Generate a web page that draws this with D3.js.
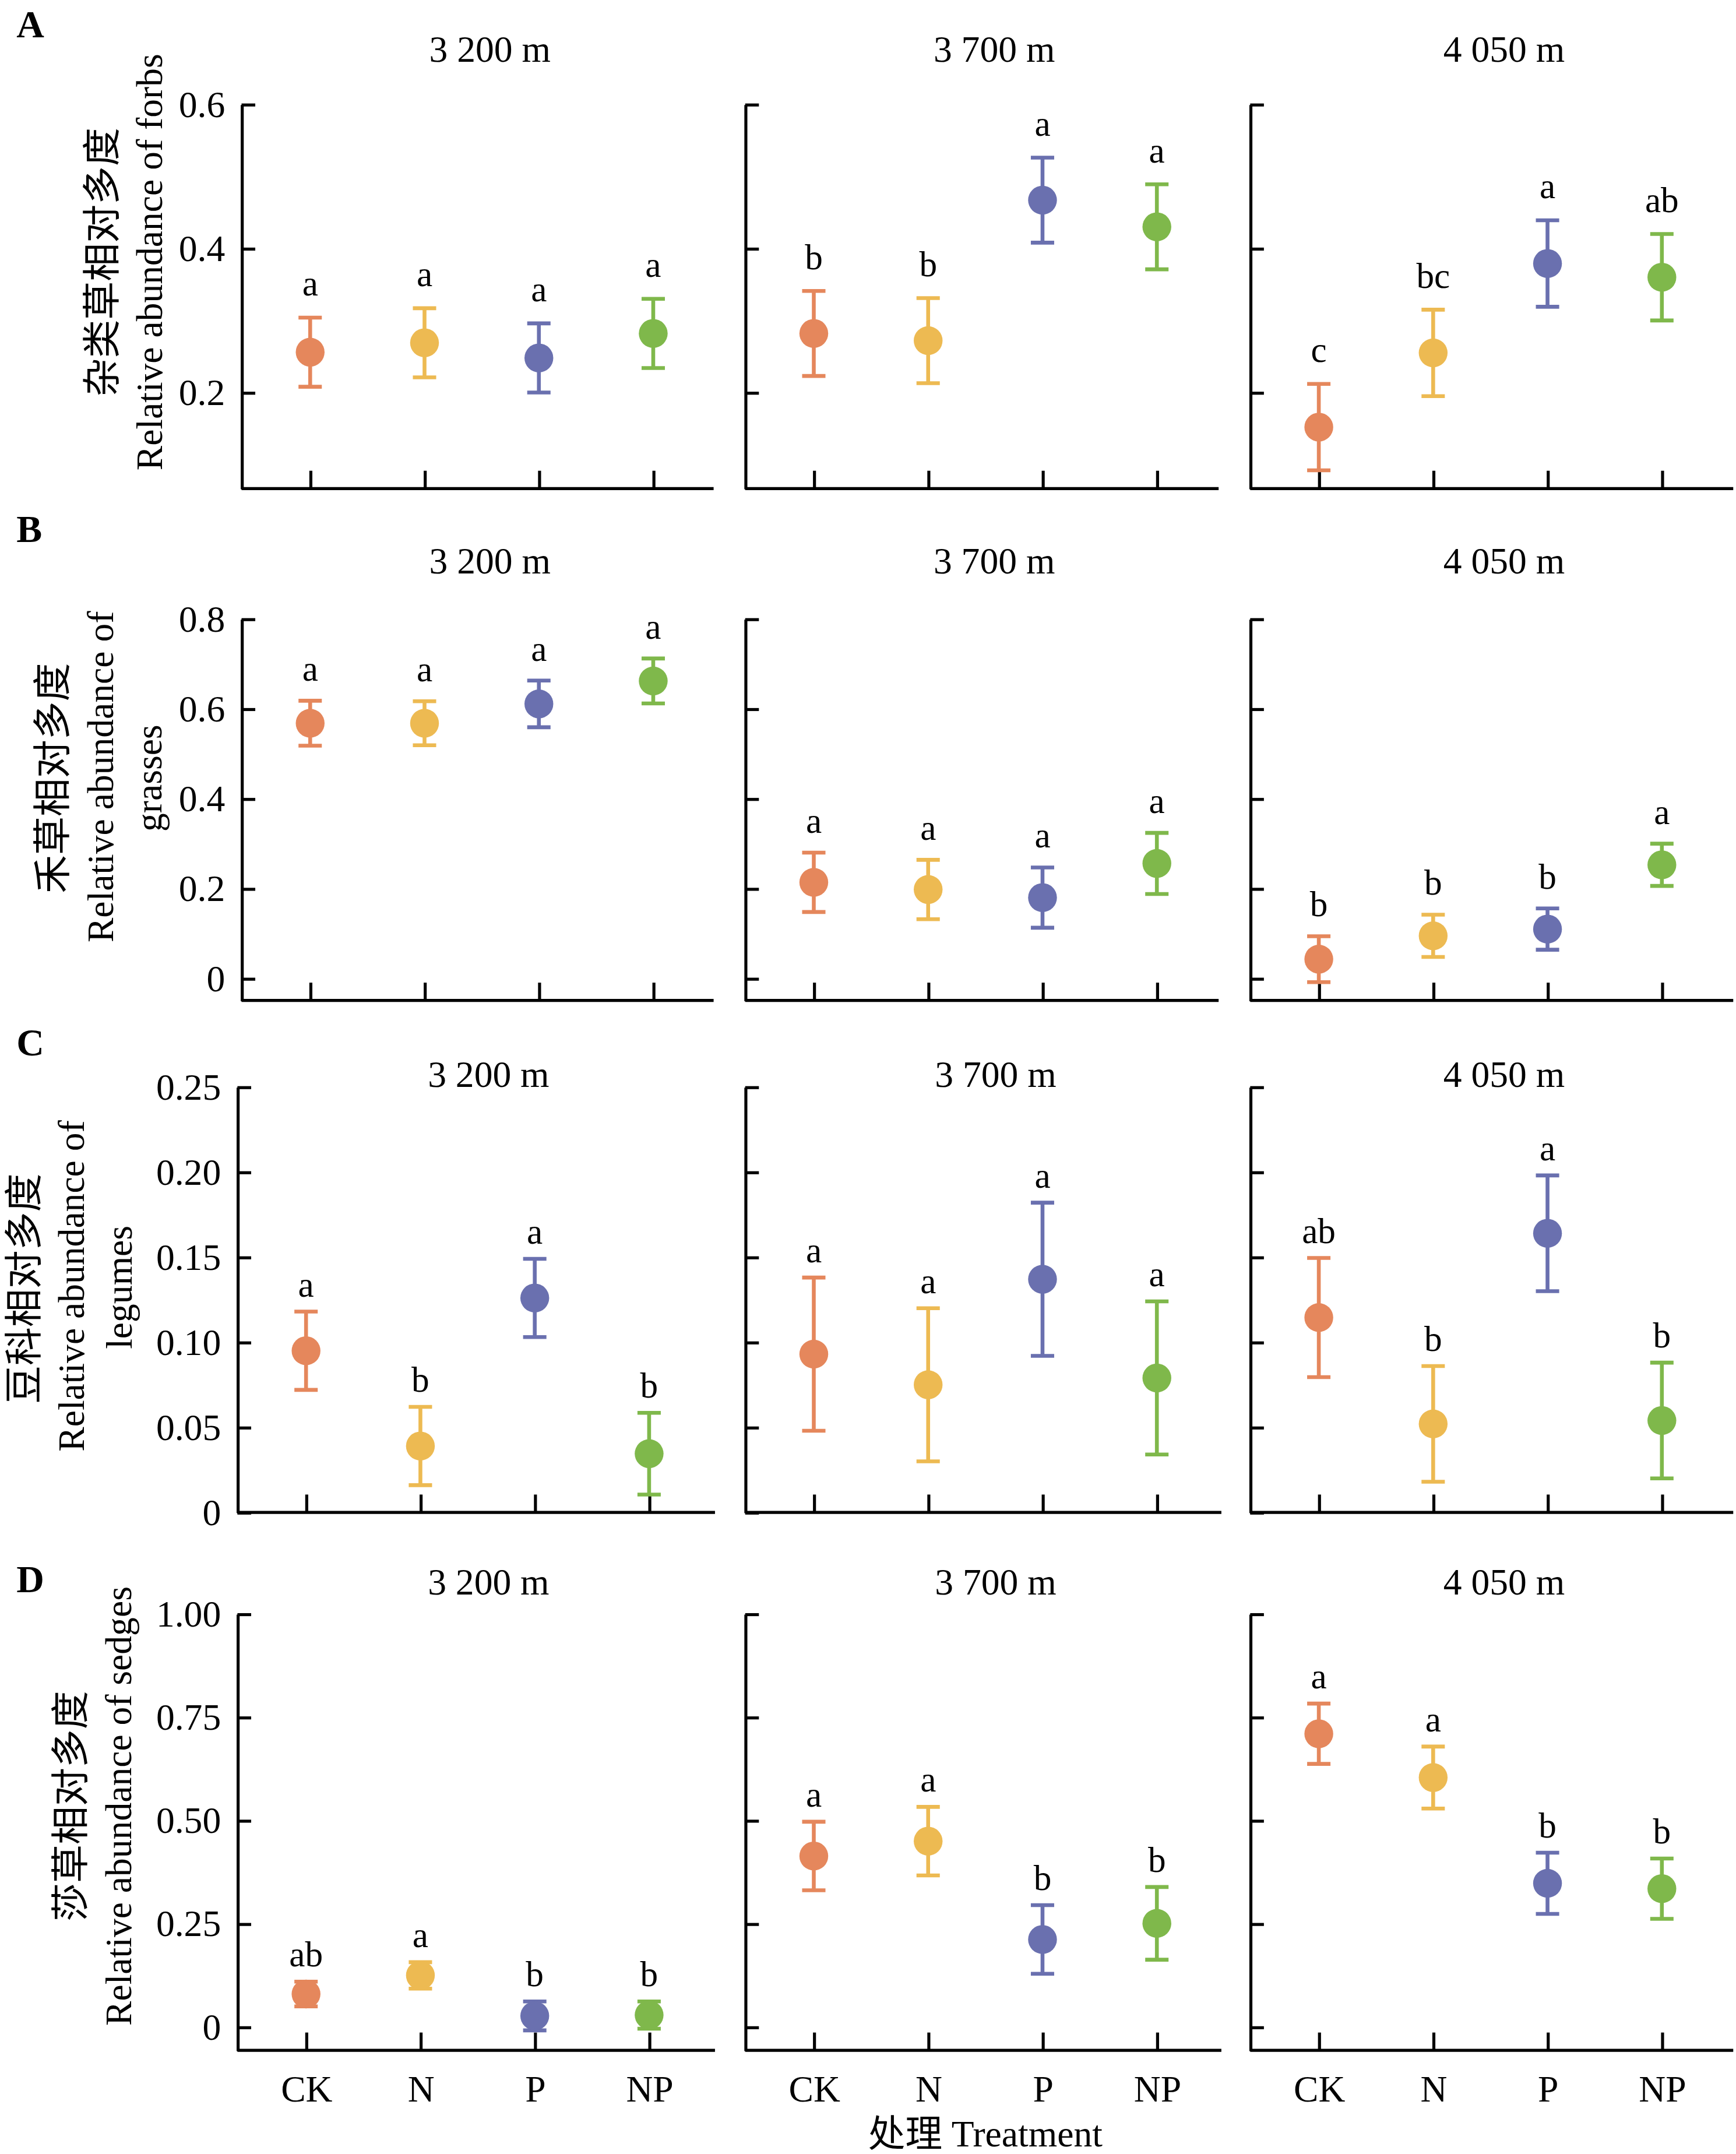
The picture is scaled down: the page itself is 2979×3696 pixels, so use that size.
<!DOCTYPE html>
<html>
<head>
<meta charset="utf-8">
<script src="https://cdn.jsdelivr.net/npm/d3@7"></script>
<style>
  body { margin: 0; background: #fff; }
  text { font-family: 'Liberation Serif', 'Times New Roman', 'Noto Sans CJK SC', serif; }
</style>
</head>
<body>
<svg id="chart"></svg>
<script>
// ---- data ----
const categories = ['CK', 'N', 'P', 'NP'];
const altitudes = ['3 200 m', '3 700 m', '4 050 m'];
const colors = ['#E5875C', '#EDBA52', '#6A70AF', '#7FB84B'];

// forbs (A): one row per altitude, values in CK, N, P, NP order
const forbsMean = [[0.256, 0.269, 0.248, 0.282], [0.282, 0.272, 0.467, 0.430], [0.152, 0.255, 0.379, 0.360]];
const forbsSE = [[0.048, 0.048, 0.048, 0.048], [0.059, 0.059, 0.059, 0.059], [0.060, 0.060, 0.060, 0.060]];
const forbsLetters = [['a', 'a', 'a', 'a'], ['b', 'b', 'a', 'a'], ['c', 'bc', 'a', 'ab']];
const forbsTicks = [0.2, 0.4, 0.6];
const forbsTickLabels = ['0.2', '0.4', '0.6'];

// grasses (B)
const grassesMean = [[0.568, 0.568, 0.611, 0.662], [0.214, 0.198, 0.180, 0.256], [0.043, 0.095, 0.110, 0.253]];
const grassesSE = [[0.050, 0.049, 0.052, 0.050], [0.066, 0.066, 0.067, 0.068], [0.051, 0.047, 0.046, 0.047]];
const grassesLetters = [['a', 'a', 'a', 'a'], ['a', 'a', 'a', 'a'], ['b', 'b', 'b', 'a']];
const grassesTicks = [0, 0.2, 0.4, 0.6, 0.8];
const grassesTickLabels = ['0', '0.2', '0.4', '0.6', '0.8'];

// legumes (C)
const legumesMean = [[0.095, 0.039, 0.126, 0.0345], [0.093, 0.075, 0.137, 0.079], [0.1145, 0.052, 0.164, 0.054]];
const legumesSE = [[0.023, 0.023, 0.023, 0.024], [0.045, 0.045, 0.045, 0.045], [0.035, 0.034, 0.034, 0.034]];
const legumesLetters = [['a', 'b', 'a', 'b'], ['a', 'a', 'a', 'a'], ['ab', 'b', 'a', 'b']];
const legumesTicks = [0, 0.05, 0.10, 0.15, 0.20, 0.25];
const legumesTickLabels = ['0', '0.05', '0.10', '0.15', '0.20', '0.25'];

// sedges (D)
const sedgesMean = [[0.080, 0.125, 0.027, 0.029], [0.414, 0.450, 0.212, 0.251], [0.710, 0.604, 0.348, 0.335]];
const sedgesSE = [[0.030, 0.032, 0.035, 0.033], [0.083, 0.083, 0.083, 0.088], [0.073, 0.075, 0.074, 0.073]];
const sedgesLetters = [['ab', 'a', 'b', 'b'], ['a', 'a', 'b', 'b'], ['a', 'a', 'b', 'b']];
const sedgesTicks = [0, 0.25, 0.50, 0.75, 1.00];
const sedgesTickLabels = ['0', '0.25', '0.50', '0.75', '1.00'];

// ---- layout (drawing units, scaled up by the viewBox) ----
const W = 1265, H = 1569.5;
const FS = 27;

const rows = [
    { tag: 'A', mean: forbsMean, se: forbsSE, letters: forbsLetters, ticks: forbsTicks, tickLabels: forbsTickLabels,
      domain: [0.0667, 0.6], top: 76, bottom: 356, tagBase: 27, titleBase: 45, labelGap: 16,
      panels: [[176, 520], [543, 888], [911, 1263]],
      ylab: [{ t: '杂类草相对多度', x: 84, cy: 191, fs: 28 }, { t: 'Relative abundance of forbs', x: 118, cy: 191, fs: FS }] },
    { tag: 'B', mean: grassesMean, se: grassesSE, letters: grassesLetters, ticks: grassesTicks, tickLabels: grassesTickLabels,
      domain: [-0.0489, 0.8], top: 451, bottom: 729, tagBase: 395, titleBase: 418, labelGap: 14.5,
      panels: [[176, 520], [543, 888], [911, 1263]],
      ylab: [{ t: '禾草相对多度', x: 48, cy: 567, fs: 28 }, { t: 'Relative abundance of', x: 82.5, cy: 566, fs: FS },
             { t: 'grasses', x: 117.5, cy: 567, fs: FS }] },
    { tag: 'C', mean: legumesMean, se: legumesSE, letters: legumesLetters, ticks: legumesTicks, tickLabels: legumesTickLabels,
      domain: [0, 0.25], top: 792, bottom: 1102, tagBase: 769, titleBase: 792, labelGap: 11,
      panels: [[173, 521], [543, 890], [911, 1263]],
      ylab: [{ t: '豆科相对多度', x: 27, cy: 939, fs: 28 }, { t: 'Relative abundance of', x: 61, cy: 937, fs: FS },
             { t: 'legumes', x: 96, cy: 938, fs: FS }] },
    { tag: 'D', mean: sedgesMean, se: sedgesSE, letters: sedgesLetters, ticks: sedgesTicks, tickLabels: sedgesTickLabels,
      domain: [-0.0565, 1.0], top: 1176, bottom: 1494, tagBase: 1160, titleBase: 1162, labelGap: 11,
      panels: [[173, 521], [543, 890], [911, 1263]],
      ylab: [{ t: '莎草相对多度', x: 61, cy: 1316, fs: 28 }, { t: 'Relative abundance of sedges', x: 95.6, cy: 1316, fs: FS }] }
];

const svg = d3.select('#chart')
    .attr('width', 2979)
    .attr('height', 3696)
    .attr('viewBox', `0 0 ${W} ${H}`);

svg.append('rect').attr('width', W).attr('height', H).attr('fill', '#fff');

const AXW = 2.2;

rows.forEach((row, ri) => {
    const last = ri === rows.length - 1;

    // panel tag
    svg.append('text')
        .attr('x', 12).attr('y', row.tagBase)
        .attr('font-size', 28).attr('font-weight', 'bold')
        .text(row.tag);

    // y axis titles
    row.ylab.forEach(l => {
        svg.append('text')
            .attr('transform', `translate(${l.x},${l.cy}) rotate(-90)`)
            .attr('text-anchor', 'middle')
            .attr('font-size', l.fs)
            .text(l.t);
    });

    row.panels.forEach((p, pi) => {
        const [x0, x1] = p;
        const g = svg.append('g');

        const x = d3.scalePoint().domain(categories).range([x0 + 50, x0 + 300]);
        const y = d3.scaleLinear().domain(row.domain).range([row.bottom, row.top]);

        // title
        g.append('text')
            .attr('x', (x0 + x1) / 2 + 9).attr('y', row.titleBase)
            .attr('text-anchor', 'middle')
            .attr('font-size', FS)
            .text(altitudes[pi]);

        // y axis (ticks inward)
        const yAxis = d3.axisLeft(y)
            .tickValues(row.ticks)
            .tickSize(-10)
            .tickSizeOuter(0)
            .tickPadding(12)
            .tickFormat((d, i) => pi === 0 ? row.tickLabels[i] : '');
        const yg = g.append('g').attr('transform', `translate(${x0},0)`).call(yAxis);

        // x axis (ticks inward)
        const xAxis = d3.axisBottom(x)
            .tickSize(-13)
            .tickSizeOuter(0)
            .tickPadding(18)
            .tickFormat(d => last ? d : '');
        const xg = g.append('g').attr('transform', `translate(0,${row.bottom})`).call(xAxis);
        xg.select('.domain').remove();
        g.append('line')
            .attr('x1', x0).attr('x2', x1)
            .attr('y1', row.bottom).attr('y2', row.bottom)
            .attr('stroke', '#000').attr('stroke-width', AXW);

        [yg, xg].forEach(a => {
            a.attr('font-size', FS).attr('font-family', null);
            a.selectAll('path, line').attr('stroke', '#000').attr('stroke-width', AXW);
            a.selectAll('text').attr('fill', '#000');
        });

        const pts = categories.map((c, i) => ({
            c, i, m: row.mean[pi][i], s: row.se[pi][i], l: row.letters[pi][i]
        }));

        // error bars
        const eb = g.selectAll('.eb').data(pts).enter().append('g')
            .attr('stroke', d => colors[d.i])
            .attr('stroke-width', 2.8);
        eb.append('line')
            .attr('x1', d => x(d.c)).attr('x2', d => x(d.c))
            .attr('y1', d => y(d.m - d.s)).attr('y2', d => y(d.m + d.s));
        eb.append('line')
            .attr('x1', d => x(d.c) - 8.5).attr('x2', d => x(d.c) + 8.5)
            .attr('y1', d => y(d.m + d.s)).attr('y2', d => y(d.m + d.s));
        eb.append('line')
            .attr('x1', d => x(d.c) - 8.5).attr('x2', d => x(d.c) + 8.5)
            .attr('y1', d => y(d.m - d.s)).attr('y2', d => y(d.m - d.s));

        // points
        g.selectAll('circle').data(pts).enter().append('circle')
            .attr('cx', d => x(d.c))
            .attr('cy', d => y(d.m))
            .attr('r', 10.5)
            .attr('fill', d => colors[d.i]);

        // significance letters
        g.selectAll('.sig').data(pts).enter().append('text')
            .attr('class', 'sig')
            .attr('x', d => x(d.c))
            .attr('y', d => y(d.m + d.s) - row.labelGap)
            .attr('text-anchor', 'middle')
            .attr('font-size', 26)
            .text(d => d.l);
    });
});

// x axis title
svg.append('text')
    .attr('x', 718).attr('y', 1564)
    .attr('text-anchor', 'middle')
    .attr('font-size', FS)
    .text('处理 Treatment');
</script>
</body>
</html>
